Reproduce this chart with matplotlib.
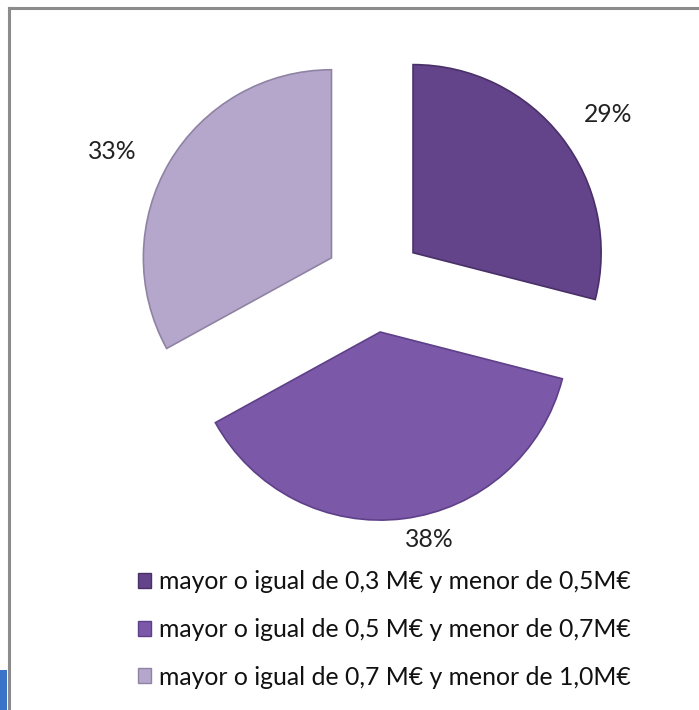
import numpy as np
import matplotlib.pyplot as plt
from matplotlib.patches import Rectangle
from matplotlib.lines import Line2D

# data
labels = ['mayor o igual de 0,3 M€ y menor de 0,5M€',
          'mayor o igual de 0,5 M€ y menor de 0,7M€',
          'mayor o igual de 0,7 M€ y menor de 1,0M€']
shares = [29, 38, 33]
colors = ['#634389', '#7c58a8', '#b5a7cb']
edges = ['#4a3068', '#5e4088', '#8f83a3']

plt.rcParams['font.family'] = ['Lato', 'DejaVu Sans']

fig = plt.figure(figsize=(6.99, 7.10), dpi=100)
ax = fig.add_axes([0, 0, 1, 1])

# pie centre at about (374, 283) px, radius 190 px
px = 190.0
xlim = (-374 / px, (699 - 374) / px)
ylim = ((283 - 710) / px, 283 / px)

wedges, texts, autotexts = ax.pie(
    shares, colors=colors, startangle=90, counterclock=False,
    explode=[0.26, 0.26, 0.26], radius=0.99,
    autopct='%1.0f%%', pctdistance=1.24,
    wedgeprops=dict(linewidth=1.2), textprops=dict(fontsize=17.8, color='#222222'),
    frame=True)
ax.axis('off')
ax.set_xlim(*xlim)
ax.set_ylim(*ylim)
for w, e in zip(wedges, edges):
    w.set_edgecolor(e)

# label distance from centre and angle nudge, per slice
label_dist = [1.52, 1.38, 1.54]
label_nudge = [-2, 5, 4]
for w, t, d, n in zip(wedges, autotexts, label_dist, label_nudge):
    mid = np.deg2rad((w.theta1 + w.theta2) / 2 + n)
    t.set_position((d * np.cos(mid), d * np.sin(mid)))

handles = [Rectangle((0, 0), 1, 1, facecolor=c, edgecolor=e, linewidth=1)
           for c, e in zip(colors, edges)]
fig.legend(handles, labels, loc='upper left', bbox_to_anchor=(0.183, 0.211),
           frameon=False, fontsize=17.8, handlelength=0.55, handleheight=0.55,
           handletextpad=0.3, labelspacing=1.0, borderaxespad=0,
           labelcolor='#111111')

# chart border (top and left visible)
fig.add_artist(Line2D([8.5 / 699, 8.5 / 699], [0, 1 - 7.5 / 710], transform=fig.transFigure,
                      color='#8c8c8c', linewidth=2.2))
fig.add_artist(Line2D([8.5 / 699, 1], [1 - 7.5 / 710, 1 - 7.5 / 710], transform=fig.transFigure,
                      color='#8c8c8c', linewidth=2.2))
# blue strip left bottom
fig.add_artist(Rectangle((0, 0), 7 / 699, 40 / 710, transform=fig.transFigure,
                         facecolor='#3a74c8', edgecolor='none'))

fig.savefig('out.png', dpi=100)
